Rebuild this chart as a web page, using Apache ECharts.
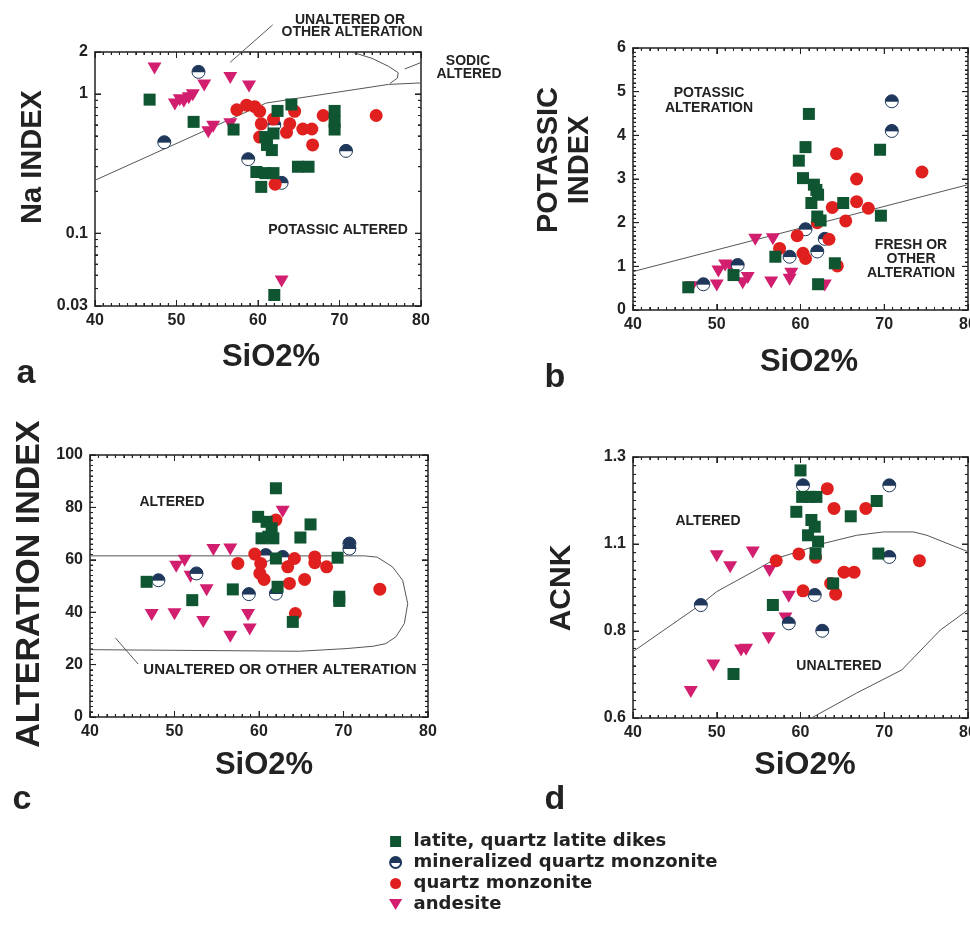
<!DOCTYPE html>
<html>
<head>
<meta charset="utf-8">
<script src="https://cdn.jsdelivr.net/npm/echarts@6.0.0/dist/echarts.min.js"></script>
<style>
  html, body { margin: 0; background: #fff; }
  #chart { width: 970px; height: 928px; }
</style>
</head>
<body>
<div id="chart"></div>
<script>
// rock groups
const groups = ['latite, quartz latite dikes', 'mineralized quartz monzonite', 'quartz monzonite', 'andesite']

// a: Na index (log axis)
const naLatite = [[46.7,0.91],[52.1,0.63],[57.0,0.555],[62.4,0.755],[64.1,0.84],[69.4,0.755],[69.4,0.63],[69.4,0.555],[60.9,0.49],[61.9,0.52],[61.1,0.43],[61.7,0.395],[59.8,0.275],[60.9,0.27],[61.9,0.27],[60.4,0.215],[64.9,0.30],[66.2,0.30],[62.0,0.036]]
const naMineral = [[52.7,1.44],[48.5,0.45],[58.8,0.34],[62.9,0.23],[70.8,0.39],[62.0,0.6]]
const naQm = [[57.4,0.77],[58.6,0.83],[59.6,0.81],[60.2,0.75],[60.4,0.61],[60.2,0.49],[61.9,0.66],[63.9,0.61],[64.5,0.75],[63.5,0.53],[65.5,0.56],[66.6,0.56],[66.7,0.43],[68.0,0.70],[74.5,0.70],[62.1,0.225]]
const naAndesite = [[47.3,1.52],[56.6,1.30],[58.9,1.13],[53.4,1.15],[49.8,0.84],[50.4,0.9],[50.9,0.88],[51.5,0.93],[52.0,0.98],[53.9,0.53],[54.5,0.58],[56.6,0.605],[62.9,0.045]]
const naBoundary = [[40,0.24],[61,0.86],[76,1.17],[80,1.2]]
const naSodic = [[71.5,2],[74,1.8],[76,1.58],[77.2,1.42],[77.1,1.3],[76.2,1.19]]
const naLeaderTop = [[56.6,1.69],[61.8,3.13]]
const naLeaderSodic = [[78.0,1.51],[81.7,1.84]]
const naMajorTicks = [0.03, 0.1, 1, 2]
const naMinorTicks = [0.04, 0.05, 0.06, 0.07, 0.08, 0.09, 0.2, 0.3, 0.4, 0.5, 0.6, 0.7, 0.8, 0.9]

// b: potassic index
const kLatite = [[46.6,0.52],[52.0,0.80],[57.0,1.22],[61.0,4.49],[60.6,3.73],[59.8,3.42],[60.3,3.02],[61.6,2.87],[61.9,2.75],[62.1,2.64],[61.3,2.45],[62.0,2.14],[62.4,2.05],[65.1,2.45],[69.5,3.67],[69.6,2.16],[64.1,1.07],[62.1,0.59]]
const kMineral = [[48.4,0.59],[52.5,1.03],[58.7,1.22],[60.6,1.85],[62.0,1.34],[62.9,1.63],[70.9,4.78],[70.9,4.10]]
const kQm = [[57.5,1.41],[59.6,1.70],[60.3,1.30],[60.6,1.18],[62.0,2.0],[63.4,1.62],[63.8,2.35],[64.3,3.58],[64.4,1.01],[65.4,2.04],[66.7,3.0],[66.7,2.48],[68.1,2.33],[74.5,3.16]]
const kAndesite = [[47.0,0.52],[50.0,0.56],[50.2,0.88],[51.0,1.02],[51.6,0.99],[53.1,0.61],[53.7,0.73],[54.6,1.61],[56.5,0.63],[56.7,1.62],[58.7,0.69],[58.9,0.83],[62.9,0.56]]
const kBoundary = [[40,0.88],[80,2.87]]

// c: alteration index
const aLatite = [[46.7,51.6],[52.1,44.6],[56.9,48.7],[59.9,76.4],[62.0,87.3],[60.9,74.5],[61.5,72],[60.3,68.2],[61.1,68.8],[61.7,68.2],[62.0,60.5],[62.2,49.7],[64.0,36.3],[64.9,68.5],[66.1,73.5],[69.3,60.8],[69.5,45.9],[69.5,44.3]]
const aMineral = [[48.1,52.2],[52.6,54.8],[58.8,46.9],[60.8,61.8],[62.0,47.1],[62.8,61.1],[70.7,66.2],[70.7,64.3]]
const aQm = [[57.5,58.6],[59.5,62.2],[60.2,58.6],[60.1,54.8],[60.6,52.5],[62.0,75.2],[63.4,57.3],[64.2,60.5],[63.6,51],[64.3,39.5],[65.4,52.5],[66.6,61.1],[66.6,58.9],[68.0,57.3],[74.3,48.8]]
const aAndesite = [[47.3,38.9],[50.0,39.2],[50.2,57.3],[51.2,59.6],[51.9,53.5],[53.8,48.4],[53.4,36.3],[54.6,63.7],[56.6,63.9],[56.6,30.6],[58.7,38.9],[58.9,33.4],[62.8,78.3]]
const aBoundary = [[40,61.5],[72.5,61.5],[74,61],[75.8,57.3],[77.0,52.2],[77.6,43.3],[77.2,35.7],[76.2,30.6],[75.0,28],[73.5,27],[70.3,26.1],[64.8,25.1],[40,25.7]]
const aLeader = [[43.0,30.2],[45.7,20.2]]

// d: ACNK (ticks evenly spaced on the original)
const acnkTicks = ['0.6', '0.8', '1.1', '1.3']
const cLatite = [[60.0,1.264],[60.2,1.193],[61.1,1.193],[61.9,1.193],[59.5,1.153],[61.3,1.131],[61.7,1.113],[60.9,1.090],[62.1,1.073],[61.8,1.041],[56.7,0.903],[52.0,0.718],[63.9,0.961],[66.0,1.141],[69.1,1.182],[69.3,1.041]]
const cMineral = [[48.1,0.903],[60.3,1.224],[70.6,1.224],[70.6,1.032],[61.7,0.930],[58.6,0.854],[62.6,0.834]]
const cQm = [[57.1,1.022],[59.8,1.040],[61.8,1.031],[60.3,0.941],[63.2,1.215],[64.0,1.162],[63.6,0.961],[64.2,0.932],[65.2,0.991],[66.4,0.991],[67.8,1.162],[74.2,1.022]]
const cAndesite = [[46.9,0.670],[49.6,0.741],[50.0,1.034],[51.6,1.004],[54.3,1.044],[52.9,0.781],[53.5,0.783],[56.3,0.994],[56.2,0.814],[58.6,0.925],[58.2,0.867]]
const cUpper = [[40,0.778],[48,0.903],[50,0.939],[54.7,0.997],[57.1,1.028],[59.7,1.046],[62.7,1.068],[66.7,1.09],[69.9,1.099],[73.5,1.099],[75.1,1.09],[80,1.046]]
const cLower = [[61.3,0.6],[66.7,0.667],[72.1,0.729],[76.7,0.836],[80,0.89]]

const ink = '#222'
const green = '#0f5532'
const navy = '#1e375a'
const red = '#e0201f'
const magenta = '#d21e6e'
const narrow = 'Liberation Sans Narrow, Liberation Sans, Arial'
const sans = 'Liberation Sans, Arial'

const chart = echarts.init(document.getElementById('chart'))

const grids = [
  { left: 95, top: 52, width: 326, height: 254 },
  { left: 633, top: 48, width: 335, height: 262 },
  { left: 90, top: 455, width: 338, height: 262 },
  { left: 633, top: 457, width: 335, height: 261 }
].map(g => Object.assign(g, { outerBoundsMode: 'none' }))

const xConf = { min: 40, max: 80, interval: 10, minor: 10 }
const yConf = [
  { type: 'log', min: 0.03, max: 2, logBase: 10, minor: 9 },
  { type: 'value', min: 0, max: 6, interval: 1, minor: 10 },
  { type: 'value', min: 0, max: 100, interval: 20, minor: 10 },
  { type: 'value', min: 0.6, max: 1.3, interval: 0.7 / 3, minor: 10,
    formatter: v => acnkTicks[Math.round((v - 0.6) / (0.7 / 3))] }
]

const tickLabel = { color: ink, fontWeight: 'bold', fontSize: 16, fontFamily: narrow }

function baseAxis(gi) {
  return {
    gridIndex: gi,
    axisLine: { show: true, onZero: false, lineStyle: { color: ink, width: 1.5 } },
    axisTick: { show: true, inside: true, length: 6, lineStyle: { color: ink, width: 1 } },
    minorTick: { show: true, length: 3, lineStyle: { color: ink, width: 1 } },
    splitLine: { show: false }
  }
}

// each panel: labelled bottom/left axes plus bare top/right axes to close the frame
const xAxis = []
const yAxis = []
grids.forEach((g, gi) => {
  ;['bottom', 'top'].forEach(pos => {
    const ax = Object.assign(baseAxis(gi), { type: 'value', min: xConf.min, max: xConf.max, interval: xConf.interval, position: pos })
    ax.minorTick.splitNumber = xConf.minor
    ax.axisLabel = pos === 'bottom' ? Object.assign({ margin: 7 }, tickLabel) : { show: false }
    xAxis.push(ax)
  })
  const c = yConf[gi]
  ;['left', 'right'].forEach(pos => {
    const ax = Object.assign(baseAxis(gi), { type: c.type, min: c.min, max: c.max, position: pos })
    if (c.interval) ax.interval = c.interval
    if (c.logBase) ax.logBase = c.logBase
    ax.minorTick.splitNumber = c.minor
    ax.axisLabel = pos === 'left' ? Object.assign({ margin: 7 }, tickLabel) : { show: false }
    if (pos === 'left' && c.formatter) ax.axisLabel.formatter = c.formatter
    yAxis.push(ax)
  })
})

// tick positions along a linear axis, split into major and minor
function linearTicks(c) {
  const major = []
  const minor = []
  const steps = Math.round((c.max - c.min) / c.interval)
  for (let i = 0; i <= steps; i++) {
    major.push(c.min + i * c.interval)
    if (i < steps) {
      for (let j = 1; j < c.minor; j++) minor.push(c.min + (i + j / c.minor) * c.interval)
    }
  }
  return { major, minor }
}
const xTicks = linearTicks(xConf)
const yTicks = yConf.map(c => c.type === 'log' ? { major: naMajorTicks, minor: naMinorTicks } : linearTicks(c))

// inward tick marks on all four sides, placed through each panel's own axes
function tickSeries(gi, dim, values, len) {
  const c = yConf[gi]
  const stroke = { stroke: ink, lineWidth: 1 }
  return {
    type: 'custom', xAxisIndex: gi * 2, yAxisIndex: gi * 2,
    silent: true, clip: false, z: 4,
    data: values.map(v => dim === 'x' ? [v, c.min] : [xConf.min, v]),
    renderItem: (params, api) => {
      if (dim === 'x') {
        const v = api.value(0)
        const b = api.coord([v, c.min])
        const t = api.coord([v, c.max])
        return { type: 'group', children: [
          { type: 'line', shape: { x1: b[0], y1: b[1], x2: b[0], y2: b[1] - len }, style: stroke },
          { type: 'line', shape: { x1: t[0], y1: t[1], x2: t[0], y2: t[1] + len }, style: stroke }
        ] }
      }
      const v = api.value(1)
      const l = api.coord([xConf.min, v])
      const r = api.coord([xConf.max, v])
      return { type: 'group', children: [
        { type: 'line', shape: { x1: l[0], y1: l[1], x2: l[0] + len, y2: l[1] }, style: stroke },
        { type: 'line', shape: { x1: r[0], y1: r[1], x2: r[0] - len, y2: r[1] }, style: stroke }
      ] }
    }
  }
}

const halfFill = {
  type: 'linear', x: 0, y: 0, x2: 0, y2: 1,
  colorStops: [
    { offset: 0, color: navy }, { offset: 0.5, color: navy },
    { offset: 0.56, color: '#fff' }, { offset: 1, color: '#fff' }
  ]
}
const styles = [
  { symbol: 'path://M0,0H10V10H0Z', symbolSize: 12, itemStyle: { color: green, opacity: 1 } },
  { symbol: 'circle', symbolSize: 13, itemStyle: { color: halfFill, borderColor: navy, borderWidth: 1, opacity: 1 } },
  { symbol: 'circle', symbolSize: 13, itemStyle: { color: red, opacity: 1 } },
  { symbol: 'path://M0,0L12,0L6,10Z', symbolSize: [14, 12], itemStyle: { color: magenta, opacity: 1 } }
]

const panelData = [
  [naLatite, naMineral, naQm, naAndesite],
  [kLatite, kMineral, kQm, kAndesite],
  [aLatite, aMineral, aQm, aAndesite],
  [cLatite, cMineral, cQm, cAndesite]
]
const panelLines = [
  [naBoundary, naSodic, naLeaderTop, naLeaderSodic],
  [kBoundary],
  [aBoundary, aLeader],
  [cUpper, cLower]
]

const series = []
grids.forEach((g, gi) => {
  series.push(tickSeries(gi, 'x', xTicks.major, 6))
  series.push(tickSeries(gi, 'x', xTicks.minor, 3))
  series.push(tickSeries(gi, 'y', yTicks[gi].major, 6))
  series.push(tickSeries(gi, 'y', yTicks[gi].minor, 3))
})
panelLines.forEach((lines, gi) => {
  lines.forEach(pts => {
    series.push({
      type: 'line', xAxisIndex: gi * 2, yAxisIndex: gi * 2, data: pts,
      symbol: 'none', clip: false, silent: true, z: 1,
      lineStyle: { color: '#555', width: 1 }
    })
  })
})
// draw order: andesite, mineralized, quartz monzonite, latite on top
;[3, 1, 2, 0].forEach(k => {
  panelData.forEach((d, gi) => {
    series.push(Object.assign({
      type: 'scatter', name: groups[k], xAxisIndex: gi * 2, yAxisIndex: gi * 2,
      data: d[k], z: 3
    }, styles[k]))
  })
})

function txt(text, x, y, size, opts) {
  return Object.assign({
    type: 'text', x: x, y: y,
    style: { text: text, fill: ink, font: 'bold ' + size + 'px ' + sans, align: 'center', verticalAlign: 'middle' }
  }, opts || {})
}
const up = { rotation: Math.PI / 2 }

const graphic = [
  txt('Na INDEX', 33, 157, 29, up),
  txt('POTASSIC', 549, 160, 29, up),
  txt('INDEX', 580, 160, 29, up),
  txt('ALTERATION INDEX', 30, 584, 34, up),
  txt('ACNK', 562, 588, 30, up),
  txt('SiO2%', 271, 357, 31),
  txt('SiO2%', 809, 362, 31),
  txt('SiO2%', 264, 765, 31),
  txt('SiO2%', 805, 765, 32),
  txt('a', 26, 374, 34),
  txt('b', 555, 378, 34),
  txt('c', 22, 800, 34),
  txt('d', 555, 800, 34),
  txt('UNALTERED OR', 350, 20, 14),
  txt('OTHER ALTERATION', 352, 32, 14),
  txt('SODIC', 468, 61, 14),
  txt('ALTERED', 469, 74, 14),
  txt('POTASSIC ALTERED', 338, 230, 14),
  txt('POTASSIC', 709, 93, 14),
  txt('ALTERATION', 709, 108, 14),
  txt('FRESH OR', 911, 245, 14),
  txt('OTHER', 911, 259, 14),
  txt('ALTERATION', 911, 273, 14),
  txt('ALTERED', 172, 502, 14),
  txt('UNALTERED OR OTHER ALTERATION', 280, 670, 15),
  txt('ALTERED', 708, 521, 14),
  txt('UNALTERED', 839, 666, 14)
]

chart.setOption({
  animation: false,
  grid: grids,
  xAxis: xAxis,
  yAxis: yAxis,
  legend: {
    data: groups,
    orient: 'vertical',
    left: 384,
    top: 826,
    itemGap: 0,
    itemWidth: 26,
    itemHeight: 11,
    textStyle: { color: ink, fontFamily: 'DejaVu Sans', fontWeight: 'bold', fontSize: 18, lineHeight: 21 }
  },
  graphic: graphic,
  series: series
})
</script>
</body>
</html>
